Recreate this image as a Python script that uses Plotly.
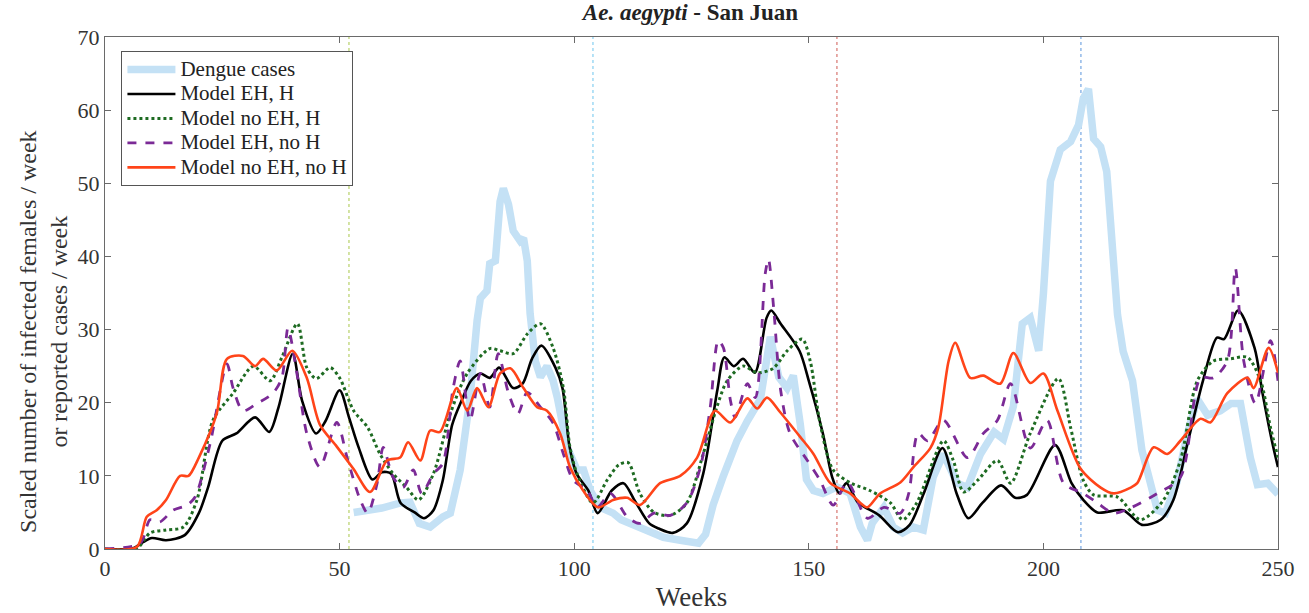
import plotly.graph_objects as go

# ---------------- data ----------------
dengue_weeks = [53,56,59,63,65,67,69.3,72,73.6,75.7,77.8,79.3,80,81.4,82,83.2,84.2,84.9,86,87,88.5,89.2,90,90.6,91.7,92.8,94.2,95.5,96.4,98.5,100.6,102,103.4,105.5,108.3,110,112,115.5,119,122.6,126.5,128,129.6,131.8,134.7,136.9,139.7,141.8,143.6,145.4,146.7,148.2,149.5,151,153,156,158.8,161,162.5,163.5,166,168,170,172.3,174.4,176.5,178.7,181.6,183.8,186.6,189.5,191.5,193.6,195.5,197.2,199,200,201.5,203.6,205.8,207.5,208.5,209.6,210.7,212.2,213.5,214.5,215.8,217,219,221,222.8,224.3,226,228.5,230.7,232.8,235,237.7,240,242,244.1,245.6,247.8,250]
dengue_cases = [5,5.3,5.6,6.3,6.4,3.5,3,4.4,4.9,10.8,20.7,31.2,34.3,35.3,39,39.4,47.5,49.3,47.1,43.5,42.1,42.5,39.4,32.2,25.7,23.5,25,23,20.7,13.9,10.8,10.8,8,5.7,4.9,4,3.5,2.6,1.6,1.2,0.8,2,6,10,14.8,17.5,20.5,29,23.5,22,23.7,17,9.5,8,7.6,8.5,7.6,3,1.2,3.5,5.7,3,2.2,3,2.6,9.8,13,9,8.4,13,16,15,19.5,30.8,31.6,27.1,34.9,50.3,54.6,55.7,58,61.6,62.9,56.1,55,51.6,44,32,27,23,13.5,9,5.3,4.9,9.2,15.8,20.5,18.3,18.9,19.9,19.9,12.5,8.8,9,7.5]

eh_h_weeks = [0,6,8,10,13,17,20,22,25,28,32,35,37,40,42,45,47,50,52,54,57,59,61,63,66,68,70,72,74,76,78,80,82,84,87,89,91,93,96,97.5,99,100.5,103,105,108,110.5,113,116,118,121,124,127.5,130.5,132,134,136,138.5,141,142,144,148,150,153,155,156.5,158,160.5,162,165,169,171.5,174.5,178.5,181.5,184,187,191,194,196.5,202.5,206,208.5,211.5,217,221,225,227.7,230.7,234,237,238.5,241.5,245,246.7,249,250]
eh_h = [0,0.1,0.9,1.5,1.2,1.9,4.9,8.5,14.8,15.8,18,16,19.4,26.7,20.3,15.8,17.5,21.7,18,14,9.5,10.5,10.3,6.3,5,4.2,5.3,9.4,17,20.3,23,24,23.4,24.8,22,22.6,26,27.8,24.8,22,14,10.3,8,4.9,8,9,6.5,3.5,2.8,2.2,3.5,10.3,21.7,26.2,25,26,24.1,31.6,32.6,30.8,27.1,23,15.8,9.8,7.6,9,6.3,5.7,4.6,2.3,3.3,7.6,13.8,7.6,4.2,6.3,8.7,7,7.4,14.2,9,6.7,5,5.3,3.3,4,6.7,14.4,23,28.9,28.7,32.6,27.5,21.3,13.9,11.2]

noeh_h_weeks = [0,6.8,9.6,13,16.7,19.6,23,27.3,31.6,35.2,37.7,41,43,45,48,50,53,56,58.6,61.4,64.3,66.8,70,73.6,77.2,82,84.2,87,90,92.8,95.5,97.7,99.1,100.6,104,107,109.5,111.5,114,117,120.5,124,127.5,130.4,132.6,136,139,142.4,145.4,148.6,150.3,152.4,155.2,159,163,167.4,170,173,178.7,180.8,183,186,190.2,193,197.2,203.2,205.8,208.5,210.7,215.8,220.7,225.6,229.2,232.8,236.2,239.9,243.5,246.3,248.4,250]
noeh_h = [0,0.1,2.2,2.6,3,6.7,17.6,21.3,25,23,26.2,30.8,24.8,23.3,24.8,23.4,18.9,16.6,13,10.3,8.4,6.7,10.3,18.5,24,27.4,27.1,26.7,29.4,30.8,27.5,22,13.9,10.3,6.3,9.4,11.5,11.8,7.6,5,4.6,6.3,13,19.4,23,25,24.1,24.7,27.1,28.7,25.7,17.2,10.8,9,8,6.3,4,6.3,14.8,12.1,7.8,9.4,12.1,9,15.8,23.3,16.6,9.4,7.4,7.1,4,6.7,12.1,23,25.7,26,26.2,23,16.6,12.5]

eh_noh_weeks = [0,7.5,9.6,11.7,14.5,17.5,19.2,22.4,26,27.3,29.4,32.4,35.8,37.7,39,40.9,43,45.8,49.4,51.6,54.4,56,58,59.3,61.4,63.5,65.7,67.5,70,72,74.2,75.7,77.8,80,82,83.8,86,88,90,92.8,95.5,97.7,99.8,102.8,104.9,107.7,111.3,114,117,120.5,124,126.9,129,130.7,131.8,133.3,134.3,136.9,138.6,140.7,141.4,142.5,144,146,149.7,152.4,155.2,158.2,162.5,166,169.5,171.3,173.3,175.3,178.7,183.8,187.2,190.2,193,197.2,200.8,204.3,208.5,211.5,215,218.5,224.3,229.2,233.5,236.2,239.2,240.9,242.7,245.2,248.4,250]
eh_noh = [0,0.8,4,3.7,5.3,6,7.1,14.4,25.3,22,18.9,19.9,21.3,23.4,30.2,24,15.8,11.2,17.3,12.5,6.7,4.9,9,13.9,9.8,8.4,10.8,7.6,10.3,11.7,22,25.7,17.6,24,19.4,26.7,21.3,18.5,21.4,19.4,17.2,13,9.4,8,5.7,7.6,4.4,3.5,4.9,4.6,6.3,11.2,19.4,28.5,27.5,20.3,18,22.6,20.7,37.6,39.6,33,21.7,15.8,12.1,9.4,6,9.1,4.2,5.7,4.9,7.6,15.8,14.8,17.6,12.5,15.8,17.6,22.6,13.8,17.6,9,7.6,6.3,4.9,5.6,7.6,9.8,23.4,23.4,25.7,38.4,25.7,19.9,28.5,23]

noeh_noh_weeks = [0,6.8,8.9,11,13,16,17.8,20,23.8,26,29.4,32,33.7,36.6,39.9,43,45.8,49.4,52.9,56.5,60.1,62.9,64.6,67.2,69.3,71.4,75,77.2,79.3,81.7,84.2,86.4,89.2,92.1,94.2,97,99.1,101.9,105.1,108.3,111.3,114,118.3,122.6,126.2,130,133.3,136.9,139,141.1,143.9,148.2,151,154.6,158.8,161,162.5,165.2,169.5,172.3,175.9,177.6,179.8,181.2,184.4,187.2,190.8,193.6,197.2,200,203,207.9,212.2,215,218.6,220,223.5,226.4,229.2,233.5,235.6,239.2,243.5,244.8,248,250]
noeh_noh = [0,0.3,4.4,5.3,6.7,10,10,12.5,18.5,26,26.4,25,26,24.4,27.1,23.4,17,14,11,7.8,12.1,12.5,14.6,12.1,16.2,16,22,18.9,22,19.4,24,24.7,22,19.4,18.9,15.8,11.2,8,5.7,6.7,7,6,9,10,12.5,18.9,17.3,20.6,19.2,20.7,18.7,15.3,13,9,7.6,6.3,5.7,7.6,9.1,11.2,13.8,16.6,25.7,28.2,23.4,23.7,22.6,26.8,22.7,24,18.9,11,8.4,7.6,8.4,9,13.9,13,14.8,17.8,17.3,21.3,23.4,22,27.5,24.1]

series_names = ["Dengue cases", "Model EH, H", "Model no EH, H", "Model EH, no H", "Model no EH, no H"]
vline_weeks = [52, 104, 156, 208]
x_ticks = [0, 50, 100, 150, 200, 250]
y_ticks = [0, 10, 20, 30, 40, 50, 60, 70]

for a, b in [(dengue_weeks, dengue_cases), (eh_h_weeks, eh_h), (noeh_h_weeks, noeh_h),
             (eh_noh_weeks, eh_noh), (noeh_noh_weeks, noeh_noh)]:
    assert len(a) == len(b), (len(a), len(b))

# ---------------- figure ----------------
FONT = "Liberation Serif"
LEG_TXT = 21


def leg(name):
    return f'<span style="font-size:{LEG_TXT}px">{name}</span>'


fig = go.Figure()
fig.add_trace(go.Scatter(x=dengue_weeks, y=dengue_cases, mode="lines", name=leg(series_names[0]),
                         line=dict(color="#c4e1f5", width=7.5)))
fig.add_trace(go.Scatter(x=eh_h_weeks, y=eh_h, mode="lines", name=leg(series_names[1]),
                         line=dict(color="#000000", width=2.6, shape="spline", smoothing=0.8)))
fig.add_trace(go.Scatter(x=noeh_h_weeks, y=noeh_h, mode="lines", name=leg(series_names[2]),
                         line=dict(color="#1e6b22", width=3, dash="dot", shape="spline", smoothing=0.8)))
fig.add_trace(go.Scatter(x=eh_noh_weeks, y=eh_noh, mode="lines", name=leg(series_names[3]),
                         line=dict(color="#7b2a96", width=2.8, dash="dash", shape="spline", smoothing=0.8)))
fig.add_trace(go.Scatter(x=noeh_noh_weeks, y=noeh_noh, mode="lines", name=leg(series_names[4]),
                         line=dict(color="#ff4419", width=2.6, shape="spline", smoothing=0.8)))

vcolors = ["#a9c74a", "#6cc5ee", "#cf5a52", "#5a95dc"]
for w, c in zip(vline_weeks, vcolors):
    fig.add_shape(type="line", xref="x", yref="paper", x0=w, x1=w, y0=0, y1=1,
                  line=dict(color=c, width=1, dash="dot"), layer="below")

axis_common = dict(showgrid=False, zeroline=False, showline=True, linecolor="#6a6a6a",
                   linewidth=1, mirror="ticks", ticks="inside", ticklen=6, tickcolor="#6a6a6a",
                   automargin=False,
                   tickfont=dict(family=FONT, size=22, color="#333333"))
fig.update_xaxes(range=[0, 250], tickvals=x_ticks, **axis_common,
                 title=dict(text="Weeks", font=dict(family=FONT, size=27, color="#333333"), standoff=6))
fig.update_yaxes(range=[0, 70], tickvals=y_ticks, **axis_common)

fig.add_annotation(text="Scaled number of infected females / week<br>or reported cases / week",
                   xref="paper", yref="paper", x=-0.052, y=0.424, xanchor="center", yanchor="middle",
                   textangle=-90, showarrow=False,
                   font=dict(family=FONT, size=24, color="#333333"))

fig.update_layout(
    width=1309, height=613, autosize=False,
    margin=dict(l=105, r=31, t=37, b=64),
    paper_bgcolor="white", plot_bgcolor="white",
    title=dict(text="<i>Ae. aegypti</i> - San Juan", x=0.5275, xanchor="center", y=0.98, yanchor="middle",
               font=dict(family=FONT, size=23, color="#222222", weight="bold")),
    legend=dict(x=0.014, y=0.972, xanchor="left", yanchor="top", bgcolor="white",
                bordercolor="#555555", borderwidth=1, itemwidth=48, tracegroupgap=0,
                font=dict(family=FONT, size=16.5, color="#222222")),
    showlegend=True,
)

fig.write_html("out.html")
